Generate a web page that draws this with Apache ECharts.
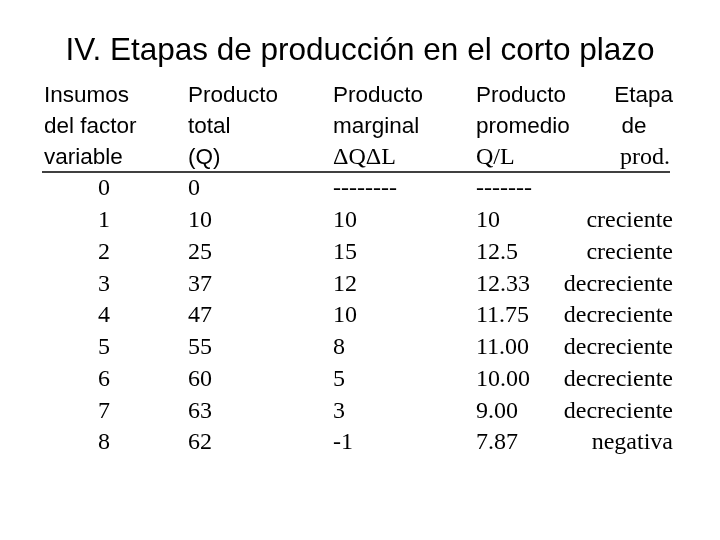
<!DOCTYPE html><html><head><meta charset="utf-8">
<script src="https://cdn.jsdelivr.net/npm/echarts@6/dist/echarts.min.js"></script>
<style>html,body{margin:0;background:#fff}#c{width:720px;height:540px}</style></head><body><div id="c"></div>
<script>
const title = "IV. Etapas de producción en el corto plazo";
const header1 = ["Insumos","Producto","Producto","Producto","Etapa"];
const header2 = ["del factor","total","marginal","promedio","de"];
const header3 = ["variable","(Q)","\u0394Q\u0394L","Q/L","prod."];
const insumos = ["0","1","2","3","4","5","6","7","8"];
const total = ["0","10","25","37","47","55","60","63","62"];
const marginal = ["--------","10","15","12","10","8","5","3","-1"];
const promedio = ["-------","10","12.5","12.33","11.75","11.00","10.00","9.00","7.87"];
const etapa = ["","creciente","creciente","decreciente","decreciente","decreciente","decreciente","decreciente","negativa"];

const SANS = "Liberation Sans, Arial, sans-serif", SERIF = "Liberation Serif, Times New Roman, serif";
const g = [];
function t(x,y,s,font,align,size){g.push({type:'text',x:x,y:y,style:{text:s,font:(size||23)+'px '+font,fill:'#000',textAlign:align||'left',textVerticalAlign:'middle'}});}
g.push({type:'text',x:360,y:51,style:{text:title,font:'31.5px '+SANS,fill:'#000',textAlign:'center',textVerticalAlign:'middle'}});
const hx=[44,188,333,476];
const hy=[96,127,158];
[header1,header2,header3].forEach((h,r)=>{
  for(let c=0;c<4;c++){ const serif = r===2 && c>=2; t(hx[c],hy[r],h[c],serif?SERIF:SANS,'left',serif?24:22.5); }
});
t(673,hy[0],header1[4],SANS,'right',22.5);
t(634,hy[1],header2[4],SANS,'center',22.5);
t(670,hy[2],header3[4],SERIF,'right',24);
g.push({type:'line',shape:{x1:42,y1:172,x2:670,y2:172},style:{stroke:'#000',lineWidth:1.5}});
const y0=189, dy=31.75;
insumos.forEach((v,i)=>{
  const y=y0+i*dy;
  t(104,y,v,SERIF,'center',24);
  t(188,y,total[i],SERIF,'left',24);
  t(333,y,marginal[i],SERIF,'left',24);
  t(476,y,promedio[i],SERIF,'left',24);
  t(673,y,etapa[i],SERIF,'right',24);
});
const chart=echarts.init(document.getElementById('c'));
chart.setOption({animation:false,graphic:g});
</script></body></html>
